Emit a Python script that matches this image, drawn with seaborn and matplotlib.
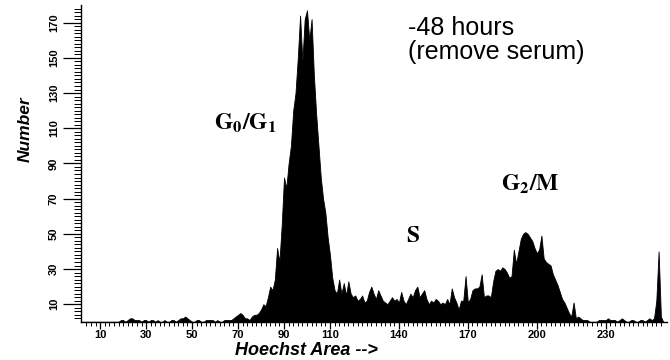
import numpy as np
import pandas as pd
import matplotlib
matplotlib.use("Agg")
import matplotlib.pyplot as plt
import seaborn as sns

# Hoechst DNA-content histogram, counts per channel (channels 0..255)
channels = list(range(256))
counts = (
    [0] * 19
    + [1, 1, 0, 1, 2, 2, 1, 1, 1, 0, 1, 1, 0, 1, 1, 0, 1, 0, 0, 1, 0,   # 19-39
       0, 1, 1, 0, 1, 2, 2, 3, 2, 1, 0, 0, 1, 1, 0, 0, 1, 1, 1, 1,      # 40-59
       0, 1, 0, 0, 1, 1, 1, 1, 2, 3, 4, 5, 4, 2, 2, 1, 3, 4, 4, 5,      # 60-79
       7, 10, 9, 14, 20, 18, 24, 42, 34, 55, 82, 76, 90, 100, 120, 130, 150, 174, 148, 172,  # 80-99
       177, 160, 172, 140, 118, 100, 82, 70, 62, 48, 38, 25, 18, 16, 24, 16, 22, 15, 23, 16,  # 100-119
       14, 15, 12, 13, 15, 11, 12, 17, 20, 16, 13, 18, 15, 12, 11, 10, 12, 14, 12, 13,  # 120-139
       11, 17, 12, 10, 13, 16, 14, 18, 20, 14, 16, 18, 13, 10, 12, 11, 13, 12, 10, 11,  # 140-159
       10, 13, 10, 19, 14, 11, 7, 12, 12, 26, 11, 13, 18, 19, 19, 20, 27, 14, 15, 15,  # 160-179
       14, 23, 29, 30, 29, 31, 30, 28, 25, 26, 41, 33, 40, 47, 50, 51, 50, 48, 46, 42,  # 180-199
       39, 41, 49, 36, 34, 33, 32, 27, 24, 21, 17, 13, 11, 8, 5, 3, 11, 2, 3, 2,  # 200-219
       1, 1, 1, 0, 0, 0, 0, 1, 1, 1, 1, 2, 1, 1, 1, 0, 1, 2, 1, 0,  # 220-239
       0, 1, 1, 0, 0, 1, 1, 0, 1, 2, 1, 2, 12, 40, 3, 0]  # 240-255
)

x_ticks = [10, 30, 50, 70, 90, 110, 140, 170, 200, 230]
y_ticks = [10, 30, 50, 70, 90, 110, 130, 150, 170]

df = pd.DataFrame({"channel": channels[:len(counts)], "count": counts})

sns.set_theme(style="white")
plt.rcParams["font.family"] = ["Liberation Sans", "DejaVu Sans"]
plt.rcParams["mathtext.fontset"] = "stix"
plt.rcParams["text.color"] = "black"
plt.rcParams["xtick.color"] = "black"
plt.rcParams["ytick.color"] = "black"
plt.rcParams["xtick.labelcolor"] = "black"
plt.rcParams["ytick.labelcolor"] = "black"

fig = plt.figure(figsize=(6.7, 3.6), dpi=100)
ax = fig.add_axes([0.121, 0.106, 0.874, 0.88])

sns.histplot(data=df, x="channel", weights="count", discrete=True,
             element="poly", fill=True, color="black", alpha=1.0,
             linewidth=0.6, edgecolor="black", ax=ax)

ax.set_xlim(1.7, 256.5)
ax.set_ylim(0, 180)

for side in ("top", "right"):
    ax.spines[side].set_visible(False)
for side in ("left", "bottom"):
    ax.spines[side].set_color("black")
    ax.spines[side].set_linewidth(1.0)

ax.set_xticks(x_ticks)
ax.set_xticklabels([str(t) for t in x_ticks], fontsize=8, fontweight="bold",
                   color="black")
ax.set_xticks(np.arange(4, 256, 2.0), minor=True)
ax.set_yticks(y_ticks)
ax.set_yticklabels([str(t) for t in y_ticks], fontsize=8, fontweight="bold",
                   rotation=90, va="center", color="black")
ax.set_yticks(np.arange(2, 180, 2.0), minor=True)

ax.tick_params(axis="x", which="major", direction="out", length=5,
               width=0.9, color="black", pad=1, bottom=True)
ax.tick_params(axis="x", which="minor", direction="out", length=3,
               width=0.7, color="black", bottom=True)
ax.tick_params(axis="y", which="major", direction="out", length=13,
               width=0.9, color="black", pad=3, left=True)
ax.tick_params(axis="y", which="minor", direction="out", length=5,
               width=0.7, color="black", left=True)

ax.set_xlabel("")
ax.set_ylabel("")
ax.grid(False)

# axis titles, placed as in the original instrument printout
fig.text(0.457, 0.027, "Hoechst Area -->", fontsize=13, fontweight="bold",
         style="italic", ha="center", va="center", color="black")
fig.text(0.037, 0.64, "Number", fontsize=12.5, fontweight="bold",
         style="italic", rotation=90, ha="center", va="center", color="black")

ax.text(144, 160, "-48 hours\n(remove serum)", fontsize=18, ha="left",
        va="center", linespacing=1.0, color="black")
ax.text(73, 113, r"$\mathbf{G_0/G_1}$", fontsize=17, ha="center",
        va="center", color="black")
ax.text(197, 78, r"$\mathbf{G_2/M}$", fontsize=17, ha="center",
        va="center", color="black")
ax.text(146, 49, r"$\mathbf{S}$", fontsize=17, ha="center", va="center",
        color="black")

fig.savefig("out.png", dpi=100)
